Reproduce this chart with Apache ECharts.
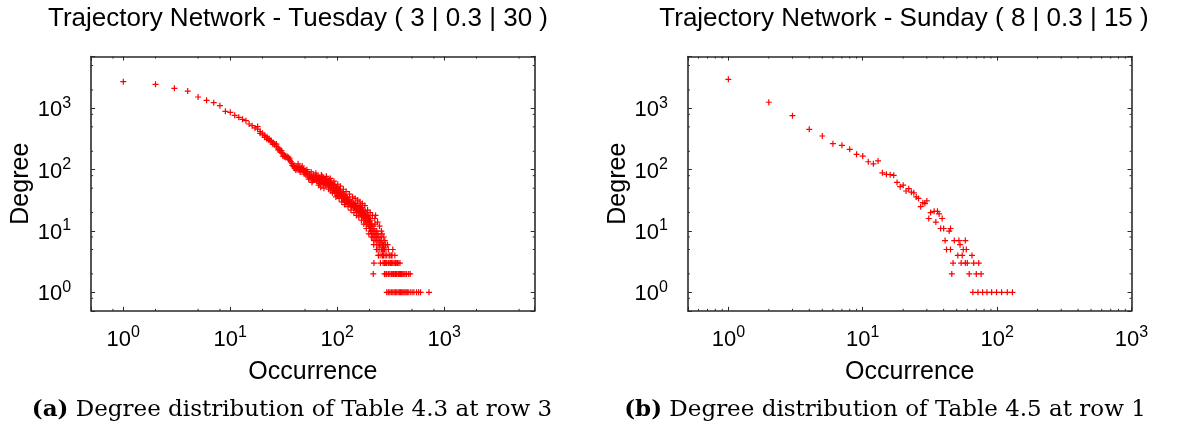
<!DOCTYPE html>
<html><head><meta charset="utf-8">
<script src="https://cdn.jsdelivr.net/npm/echarts@6/dist/echarts.min.js"></script>
<style>html,body{margin:0;padding:0;background:#fff}#c{width:1178px;height:432px}</style>
</head><body><div id="c"></div>
<script>
// ---------- DATA ----------
const tuesdayPoints = [
[1,2730],[2,2470],[3,2130],[4,1920],[5,1535],[6,1355],[7,1240],[8,1107],[9,897],[10,863],[11,771],[12,716],[13,664],[14,630],[15,557],[16,523],[17,480],[18,461],[18,505],[19,420],[19,393],[20,395],[20,372],[21,338],[21,360],[22,345],[22,313],[23,302],[23,322],[24,302],[24,288],[25,260],[25,275],[26,253],[26,266],[27,262],[27,240],[28,210],[28,226],[29,202],[29,216],[30,205],[30,192],[31,167],[31,182],[32,163],[32,172],[33,169],[33,158],[34,165],[35,159],[35,148],[36,151],[36,140],[37,134],[38,118],[38,127],[39,112],[40,105],[40,116],[41,98],[41,108],[42,104],[42,111],[44,111],[44,100],[44,106],[46,99],[46,108],[46,104],[48,104],[48,96],[50,98],[50,90],[51,82],[51,93],[53,79],[53,88],[55,75],[55,85],[55,80],[58,62],[58,78],[58,72],[60,74],[60,82],[60,70],[62,68],[62,76],[64,70],[64,80],[64,66],[66,72],[66,78],[66,64],[68,65],[68,60],[68,75],[70,52],[70,68],[70,72],[72,70],[72,62],[72,78],[74,65],[74,58],[74,74],[76,70],[76,60],[78,68],[78,62],[78,56],[80,62],[80,70],[80,58],[82,65],[82,55],[84,60],[84,52],[84,68],[87,45],[87,58],[87,62],[89,51],[89,56],[89,60],[92,46],[92,55],[92,50],[95,48],[95,42],[95,58],[98,41],[98,52],[98,46],[100,50],[100,44],[100,38],[102,37],[102,46],[105,44],[105,40],[105,48],[108,38],[108,43],[111,34],[111,42],[111,36],[115,35],[115,40],[115,32],[118,38],[118,30],[118,33],[120,34],[120,36],[120,29],[124,30],[124,35],[124,32],[128,28],[128,33],[128,30],[131,32],[131,27],[131,29],[136,28],[136,30],[136,25],[141,25],[141,29],[141,26],[145,27],[145,24],[149,26],[149,23],[149,28],[152,22],[152,25],[156,24],[156,21],[160,22],[160,20],[160,25],[165,26],[165,19],[165,23],[170,21],[170,18],[170,24],[175,20],[175,17],[175,22],[178,19],[178,16],[182,17],[182,21],[182,15],[185,16],[185,14],[185,19],[190,13],[190,18],[190,16],[195,12],[195,15],[195,17],[200,11],[200,14],[200,16],[205,12],[205,10],[205,15],[210,9],[210,13],[210,11],[215,10],[215,8],[215,12],[217,2],[220,3],[220,9],[220,11],[220,7],[225,8],[225,13],[225,10],[228,18],[230,7],[230,9],[234,8],[234,6],[234,10],[240,7],[240,9],[240,5],[242,4],[245,6],[245,8],[250,5],[250,7],[250,6],[256,6],[256,4],[256,8],[260,7],[260,5],[265,5],[265,6],[265,4],[270,4],[270,6],[270,5],[276,3],[276,5],[276,2],[280,4],[280,6],[280,3],[285,3],[285,2],[285,5],[290,1],[290,2],[290,3],[290,4],[300,1],[300,2],[300,3],[300,5],[310,1],[310,2],[310,3],[310,4],[320,1],[320,2],[320,3],[320,4],[330,1],[330,2],[330,3],[330,5],[340,1],[340,2],[340,3],[350,1],[350,2],[350,3],[360,1],[360,2],[360,3],[370,1],[370,2],[370,3],[380,1],[380,2],[385,3],[390,1],[390,2],[400,1],[400,2],[410,1],[410,2],[420,1],[420,2],[430,1],[430,2],[440,1],[445,2],[450,1],[460,1],[465,2],[480,1],[480,2],[500,1],[520,1],[550,1],[575,1],[600,1],[720,1],
[43,125],[45,92],[47,115],[49,85],[52,100],[54,70],[57,92],[59,66],[63,88],[67,56],[71,82],[75,50],[79,78],[83,48],[86,72],[90,42],[93,65],[97,36],[101,58],[104,34],[107,54],[110,30],[114,48],[117,27],[121,44],[126,25],[130,40],[134,22],[139,36],[143,20],[147,34],[151,18],[155,32],[159,17],[163,30],[168,15],[172,28],[177,13],[181,26],[187,11],[192,22],[197,9],[203,20],[208,8],[213,18],[219,6],[224,16],[232,5],[238,14],[244,4],[248,12],[253,3],[258,10],[262,9],[268,3],[272,8],[278,7],[283,6],[295,6],[305,4],[315,3],[325,4],[335,2],[345,4],[355,2],[365,3],[375,2],[395,2]
];
const sundayPoints = [
[1,2985],[2,1260],[3,760],[4,456],[5,355],[6,266],[7,250],[8,215],[9,178],[10,167],[11,135],[12,125],[13,139],[14,89],[15,84],[16,83],[17,81],[18,62],[19,53],[20,56],[21,45],[22,49],[23,43],[24,42],[25,36],[26,34],[27,25],[28,29],[29,28],[30,31],[31,16],[32,20],[34,21],[35,14],[36,21],[37,19],[38,11],[39,16],[40,11],[41,7],[42,5],[44,10],[45,11],[45,5],[46,2],[47,3],[48,7],[51,4],[52,7],[53,6],[54,3],[55,4],[56,5],[58,3],[58,7],[59,5],[60,3],[62,2],[65,4],[66,1],[67,3],[70,2],[72,1],[73,3],[76,2],[78,1],[84,1],[91,1],[99,1],[108,1],[119,1],[130,1]
];
const titles = ['Trajectory Network - Tuesday ( 3 | 0.3 | 30 )', 'Trajectory Network - Sunday ( 8 | 0.3 | 15 )'];
const captionTags = ['(a)', '(b)'];
const captions = ['Degree distribution of Table 4.3 at row 3', 'Degree distribution of Table 4.5 at row 1'];
const xName = 'Occurrence';
const yName = 'Degree';
const tuesdayXRange = [0.5, 7000];
const sundayXRange = [0.5, 1000];
const degreeRange = [0.5, 7000];
const minorTicks258 = [0.8, 2, 5, 8, 20, 50, 80, 200, 500, 800, 2000, 5000];
const minorTicksAll = [0.6, 0.7, 0.8, 0.9, 2, 3, 4, 5, 6, 7, 8, 9, 20, 30, 40, 50, 60, 70, 80, 90, 200, 300, 400, 500, 600, 700, 800, 900];

// ---------- CHART ----------
const FONT = 'Liberation Sans, Arial, Helvetica, sans-serif';
const SERIF = 'DejaVu Serif, serif';
const AXC = '#2a2a2a';
const PLUS = 'path://M4,0H6V4H10V6H6V10H4V6H0V4H4Z';

function powLabel(v) {
  const e = Math.log10(v), r = Math.round(e);
  if (Math.abs(e - r) > 1e-6) return '';
  return '{b|10}{s|' + r + '}';
}
const labelRich = {
  b: { fontSize: 22, fontFamily: FONT, color: '#000', lineHeight: 26, verticalAlign: 'bottom' },
  s: { fontSize: 16, fontFamily: FONT, color: '#000', lineHeight: 14, verticalAlign: 'top' }
};

function axisBase(grid, range) {
  return {
    gridIndex: grid, type: 'log', logBase: 10, min: range[0], max: range[1],
    axisLine: { show: true, lineStyle: { color: AXC, width: 1.6 } },
    axisTick: { show: true, inside: true, length: 4, lineStyle: { color: AXC, width: 1 } },
    splitLine: { show: false }, minorTick: { show: false }
  };
}
function xAxes(grid, range) {
  const base = axisBase(grid, range);
  return [
    Object.assign({}, base, {
      position: 'bottom',
      axisLabel: { show: true, interval: 0, margin: 14, formatter: powLabel, rich: labelRich, hideOverlap: false },
      name: xName, nameLocation: 'middle', nameGap: 49,
      nameTextStyle: { fontSize: 25, fontFamily: FONT, color: '#000' }
    }),
    Object.assign({}, base, { position: 'top', axisLabel: { show: false } })
  ];
}
function yAxes(grid, range) {
  const base = axisBase(grid, range);
  return [
    Object.assign({}, base, {
      position: 'left',
      axisLabel: { show: true, interval: 0, margin: 20, formatter: powLabel, rich: labelRich, hideOverlap: false },
      name: yName, nameLocation: 'middle', nameGap: 50, nameRotate: 90,
      nameTextStyle: { fontSize: 25, fontFamily: FONT, color: '#000' }
    }),
    Object.assign({}, base, { position: 'right', axisLabel: { show: false } })
  ];
}

function minorSeries(xIdx, yIdx, xMinors, yMinors, xr, yr) {
  const data = xMinors.map(v => [v, yr[0], 0]).concat(yMinors.map(v => [xr[0], v, 1]));
  const L = 2;
  return {
    type: 'custom', xAxisIndex: xIdx, yAxisIndex: yIdx, silent: true, clip: false, z: 5,
    data: data,
    renderItem: function (params, api) {
      const kind = api.value(2);
      const st = { stroke: AXC, lineWidth: 1 };
      if (kind === 0) {
        const v = api.value(0);
        const b = api.coord([v, yr[0]]), t = api.coord([v, yr[1]]);
        return { type: 'group', children: [
          { type: 'line', shape: { x1: b[0], y1: b[1], x2: b[0], y2: b[1] - L }, style: st },
          { type: 'line', shape: { x1: t[0], y1: t[1], x2: t[0], y2: t[1] + L }, style: st }
        ] };
      } else {
        const v = api.value(1);
        const l = api.coord([xr[0], v]), r = api.coord([xr[1], v]);
        return { type: 'group', children: [
          { type: 'line', shape: { x1: l[0], y1: l[1], x2: l[0] + L, y2: l[1] }, style: st },
          { type: 'line', shape: { x1: r[0], y1: r[1], x2: r[0] - L, y2: r[1] }, style: st }
        ] };
      }
    }
  };
}

function captionText(i, x) {
  return { type: 'text', x: x, y: 410, style: {
    text: '{t|' + captionTags[i] + '} ' + captions[i], fontSize: 23, fontFamily: SERIF, fill: '#000',
    align: 'center', verticalAlign: 'middle',
    rich: { t: { fontWeight: 'bold', fontSize: 23, fontFamily: SERIF } } } };
}

const chart = echarts.init(document.getElementById('c'), null, { renderer: 'canvas' });
const option = {
  backgroundColor: '#fff',
  animation: false,
  grid: [
    { left: 91.1, top: 56.6, width: 443.6, height: 254.2 },
    { left: 687.9, top: 56.6, width: 443.6, height: 254.2 }
  ],
  xAxis: xAxes(0, tuesdayXRange).concat(xAxes(1, sundayXRange)),
  yAxis: yAxes(0, degreeRange).concat(yAxes(1, degreeRange)),
  series: [
    { type: 'scatter', xAxisIndex: 0, yAxisIndex: 0, data: tuesdayPoints, symbol: PLUS, symbolSize: 6,
      itemStyle: { color: '#ff0000', opacity: 1 }, silent: true, z: 3 },
    { type: 'scatter', xAxisIndex: 2, yAxisIndex: 2, data: sundayPoints, symbol: PLUS, symbolSize: 6,
      itemStyle: { color: '#ff0000', opacity: 1 }, silent: true, z: 3 },
    minorSeries(0, 0, minorTicks258, minorTicks258, tuesdayXRange, degreeRange),
    minorSeries(2, 2, minorTicksAll, minorTicks258, sundayXRange, degreeRange)
  ],
  graphic: [
    { type: 'text', x: 298, y: 19, style: { text: titles[0], fontSize: 26, fontFamily: FONT, fill: '#000', align: 'center', verticalAlign: 'middle' } },
    { type: 'text', x: 904, y: 19, style: { text: titles[1], fontSize: 26, fontFamily: FONT, fill: '#000', align: 'center', verticalAlign: 'middle' } },
    captionText(0, 292),
    captionText(1, 885)
  ]
};
chart.setOption(option);
</script></body></html>
